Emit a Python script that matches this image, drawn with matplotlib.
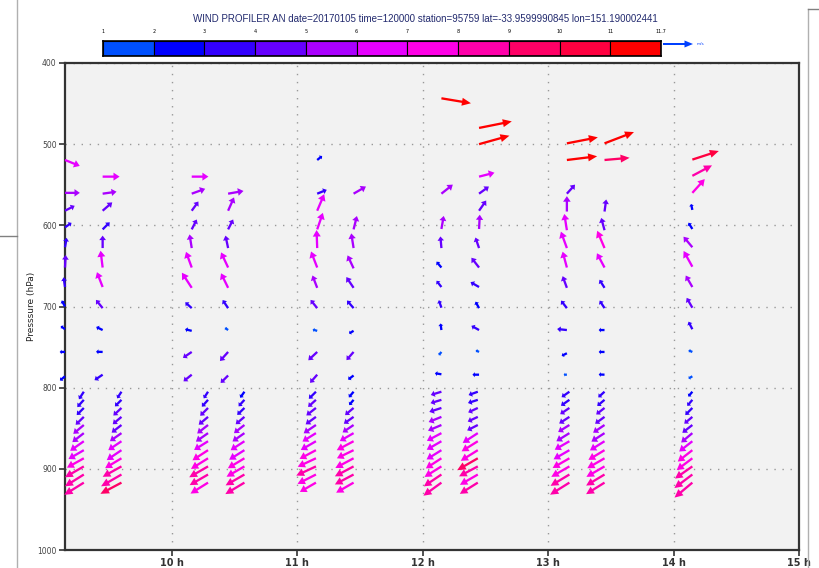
import numpy as np
import matplotlib
matplotlib.use('Agg')
import matplotlib.pyplot as plt
from matplotlib.colors import ListedColormap, BoundaryNorm
from matplotlib.patches import Rectangle, FancyArrow
from matplotlib.transforms import ScaledTranslation, IdentityTransform
from matplotlib.lines import Line2D

# speed classes (m/s) and their colours
spd_bounds = [1, 2, 3, 4, 5, 6, 7, 8, 9, 10, 11, 11.7]
spd_labels = ['1', '2', '3', '4', '5', '6', '7', '8', '9', '10', '11', '11.7']
spd_colors = ['#0050ff', '#0000ff', '#3300ff', '#6600ff', '#aa00ff', '#e600ff',
              '#ff00e6', '#ff00aa', '#ff0066', '#ff0040', '#ff0000']

# high mode profiles: time (h), pressure (hPa), speed (m/s), direction (deg, from)
hi_times = [9.15, 9.45, 10.16, 10.45, 11.16, 11.45, 12.15, 12.45, 13.15, 13.45, 14.15]
hi_pres = [
    [519.5, 560, 582, 602.5, 627, 652, 676, 700, 728, 756, 786],
    [540, 561, 582, 605, 628, 652, 676, 702, 729, 756, 784],
    [540, 561, 582, 605, 628, 652, 677, 702, 730, 756, 784],
    [561, 582, 605, 628, 652, 677, 702, 729, 756, 785],
    [519.5, 561, 582, 605, 628, 652, 677, 702, 730, 756, 784],
    [561, 605, 628, 653, 677, 702, 730, 756, 785],
    [443.5, 561, 604.5, 628, 652, 676, 701.5, 729, 756, 783.5],
    [480, 500, 540, 561, 582, 604.5, 628, 652, 676, 702, 729, 756, 784],
    [499, 519.5, 561, 583, 606, 628, 652, 677, 702, 729, 757.6, 784],
    [499, 519.5, 583, 606, 628, 652, 677, 702, 729, 756, 784],
    [519, 539, 560, 581, 604.5, 627, 651, 676, 701.5, 728, 756, 786],
]
hi_spd = [
    [6.0, 5.6, 4.1, 3.0, 3.6, 4.7, 3.7, 2.6, 2.0, 2.0, 2.5],
    [6.4, 5.3, 4.8, 3.8, 4.7, 6.4, 6.0, 4.0, 2.7, 2.5, 3.7],
    [6.3, 5.4, 4.3, 4.2, 5.2, 6.3, 6.8, 3.3, 2.6, 4.0, 4.0],
    [5.9, 5.5, 4.2, 4.8, 6.3, 6.1, 3.7, 1.5, 4.6, 4.0],
    [2.4, 3.9, 6.8, 6.6, 6.8, 6.5, 5.0, 4.0, 1.8, 4.6, 4.1],
    [5.4, 5.2, 5.6, 5.4, 4.9, 3.8, 2.0, 4.1, 2.6],
    [11.3, 5.5, 5.0, 4.4, 2.9, 3.0, 3.0, 2.5, 1.6, 2.5],
    [12.6, 11.9, 6.0, 4.6, 4.7, 5.4, 4.2, 4.7, 3.7, 2.8, 3.3, 1.4, 2.5],
    [11.9, 11.5, 4.6, 5.8, 6.2, 6.6, 6.2, 4.7, 3.6, 3.7, 2.2, 1.2],
    [11.9, 9.5, 4.6, 4.8, 7.1, 6.1, 3.6, 3.4, 2.2, 2.2, 2.2],
    [10.5, 8.4, 7.0, 2.3, 2.8, 5.2, 6.8, 5.0, 4.3, 3.2, 1.6, 1.7],
]
hi_dir = [
    [292, 270, 243, 235, 190, 183, 172, 151, 127, 90, 50],
    [270, 262, 229, 225, 180, 173, 159, 141, 116, 92, 56],
    [270, 250, 216, 207, 171, 160, 147, 132, 104, 56, 51],
    [260, 204, 207, 168, 155, 154, 146, 125, 42, 45],
    [231, 248, 203, 199, 178, 159, 159, 141, 106, 47, 41],
    [240, 194, 171, 155, 146, 139, 60, 41, 53],
    [279.5, 231.5, 190, 175, 140, 142, 161, 172, 39, 99],
    [258.7, 254.4, 255.7, 234, 215, 183, 161, 142, 120, 151, 119, 117, 90],
    [259, 263, 222, 180, 171, 160, 165, 160, 142, 96, 63, 90],
    [249, 265, 188, 165, 157, 152, 148, 147, 90, 90, 92],
    [252, 242, 222, 168, 148, 140, 151, 150, 150, 153, 113, 60],
]

# low mode profiles (same range gates for every profile)
lo_times = [9.30, 9.60, 10.29, 10.58, 11.15, 11.45, 12.15, 12.44, 13.17, 13.45, 14.15]
lo_pres = [805, 815, 825, 836, 846, 856, 866, 877, 887, 897, 907, 917]
lo_spd = [
    [3.4, 3.7, 3.8, 4.3, 5.2, 5.5, 6.3, 6.7, 7.3, 8.2, 8.4, 8.7],
    [3.0, 3.5, 4.2, 4.3, 4.7, 5.3, 6.0, 6.7, 7.2, 8.1, 8.9, 9.0],
    [3.0, 3.5, 4.2, 4.6, 5.2, 5.6, 6.2, 7.0, 7.6, 8.2, 8.0, 7.8],
    [2.8, 3.3, 3.8, 4.3, 5.0, 5.5, 6.2, 6.8, 7.3, 7.8, 8.2, 8.4],
    [3.8, 4.0, 4.6, 4.8, 5.6, 6.0, 6.6, 7.0, 7.6, 8.2, 7.8, 7.0],
    [2.8, 2.6, 4.2, 4.5, 5.0, 6.0, 7.2, 7.0, 7.8, 8.0, 8.0, 7.6],
    [4.2, 4.3, 4.8, 5.2, 5.5, 6.2, 6.4, 6.6, 7.0, 7.5, 8.0, 8.4],
    [3.7, 3.9, 4.0, 4.2, 4.5, 6.8, 7.2, 7.6, 9.0, 8.0, 7.8, 8.0],
    [3.6, 3.9, 4.2, 4.6, 5.0, 5.8, 6.4, 6.9, 7.3, 7.9, 8.3, 8.6],
    [3.2, 3.6, 4.0, 4.4, 5.2, 5.9, 6.5, 7.1, 7.5, 7.9, 8.1, 8.2],
    [2.4, 3.0, 3.8, 4.0, 4.8, 5.5, 6.3, 7.0, 7.4, 8.0, 8.5, 8.8],
]
lo_dir = [
    [33, 42, 45, 46, 50, 52, 55, 60, 61, 60, 58, 58],
    [33, 45, 47, 50, 52, 55, 56, 56, 59, 61, 60, 62],
    [33, 42, 45, 50, 52, 55, 58, 57, 58, 60, 60, 58],
    [35, 42, 46, 50, 52, 55, 57, 58, 59, 60, 60, 59],
    [45, 48, 52, 54, 56, 58, 60, 62, 65, 65, 63, 60],
    [40, 40, 50, 55, 56, 60, 62, 64, 62, 62, 62, 60],
    [73, 73, 72, 68, 67, 62, 60, 58, 57, 58, 56, 54],
    [70, 72, 65, 65, 63, 57, 58, 58, 60, 62, 60, 58],
    [55, 55, 56, 57, 58, 58, 60, 60, 60, 60, 59, 58],
    [48, 50, 52, 54, 56, 57, 58, 59, 60, 60, 59, 58],
    [40, 40, 45, 50, 52, 50, 52, 52, 53, 55, 53, 50],
]

hour_ticks = [10, 11, 12, 13, 14, 15]
hour_labels = ['10 h', '11 h', '12 h', '13 h', '14 h', '15 h']
p_ticks = [400, 500, 600, 700, 800, 900, 1000]

title = ('WIND PROFILER AN date=20170105 time=120000 station=95759 '
         'lat=-33.9599990845 lon=151.190002441')

px_per_ms = 2.65   # arrow length in pixels per m/s

cmap = ListedColormap(spd_colors)
norm = BoundaryNorm(spd_bounds, cmap.N, clip=True)


def arrow_shape(s, wdir):
    L = px_per_ms * s
    a = np.radians(wdir)
    dx = -np.sin(a) * L
    dy = -np.cos(a) * L
    hl = min(9.0, 0.36 * L)
    hw = min(8.0, 0.3 * L + 3.0)
    return dx, dy, hl, hw


def draw_profile(ax, t, pres, spd, wdir):
    for p, s, d in zip(pres, spd, wdir):
        dx, dy, hl, hw = arrow_shape(s, d)
        arr = FancyArrow(0, 0, dx, dy, width=2.3, head_width=hw, head_length=hl,
                         length_includes_head=True, facecolor=cmap(norm(s)),
                         edgecolor='none', linewidth=0,
                         transform=ScaledTranslation(t, p, ax.transData),
                         clip_on=False, zorder=3)
        ax.add_patch(arr)


W, H = 820, 568
fig = plt.figure(figsize=(W / 100, H / 100), dpi=100)
ax = fig.add_axes([65 / W, 1 - 550 / H, (799 - 65) / W, (550 - 63) / H])
ax.set_facecolor('#f2f2f2')

for i, t in enumerate(hi_times):
    draw_profile(ax, t, hi_pres[i], hi_spd[i], hi_dir[i])
for i, t in enumerate(lo_times):
    draw_profile(ax, t, lo_pres, lo_spd[i], lo_dir[i])

ax.set_xlim(9.15, 15.0)
ax.set_ylim(1000, 400)
ax.set_xticks(hour_ticks)
ax.set_xticklabels(hour_labels, fontsize=7, fontweight='bold', color='#333333')
ax.set_yticks(p_ticks)
ax.set_yticklabels([str(p) for p in p_ticks], fontsize=5.5, color='#444444')
ax.tick_params(axis='both', direction='out', length=4, width=1.2, color='#333333', pad=2)
ax.set_ylabel('Presssure (hPa)', fontsize=6.5, color='#222222', labelpad=1)
ax.grid(True, color='#999999', linestyle=(0, (1, 4.8)), linewidth=1)
ax.set_axisbelow(True)
for s in ax.spines.values():
    s.set_color('#333333')
    s.set_linewidth(1.6)

fig.text(425 / W, 1 - 19 / H, title, ha='center', va='center', fontsize=7,
         color='#222a6e', family='Liberation Sans')

# colour bar of the speed classes
cax = fig.add_axes([103 / W, 1 - 56 / H, (661 - 103) / W, 15 / H])
for i, c in enumerate(spd_colors):
    cax.add_patch(Rectangle((i, 0), 1, 1, facecolor=c, edgecolor='black', linewidth=0.8))
cax.set_xlim(0, len(spd_colors))
cax.set_ylim(0, 1)
cax.set_xticks(range(len(spd_labels)))
cax.set_xticklabels(spd_labels, fontsize=3.5)
cax.xaxis.tick_top()
cax.tick_params(length=0, pad=5)
cax.set_yticks([])
for s in cax.spines.values():
    s.set_linewidth(1.2)

# reference arrow next to the colour bar
fig.add_artist(FancyArrow(663, H - 44, 30, 0, width=2.0, head_width=7, head_length=8.5,
                          length_includes_head=True, facecolor='#0040ff', edgecolor='none',
                          transform=IdentityTransform()))
fig.text(697 / W, 1 - 44 / H, 'm/s', fontsize=3, va='center', color='#0040ff')

# frame lines of the surrounding window
fig.add_artist(Line2D([17 / W, 17 / W], [0, 1], color='#b0b0b0', linewidth=1))
fig.add_artist(Line2D([0, 17 / W], [1 - 236 / H, 1 - 236 / H], color='#808080', linewidth=1))
fig.add_artist(Line2D([808 / W, 808 / W], [0, 1 - 9 / H], color='#b0b0b0', linewidth=1))
fig.add_artist(Line2D([808 / W, 1], [1 - 9 / H, 1 - 9 / H], color='#808080', linewidth=1))

fig.savefig('out.png', dpi=100)
